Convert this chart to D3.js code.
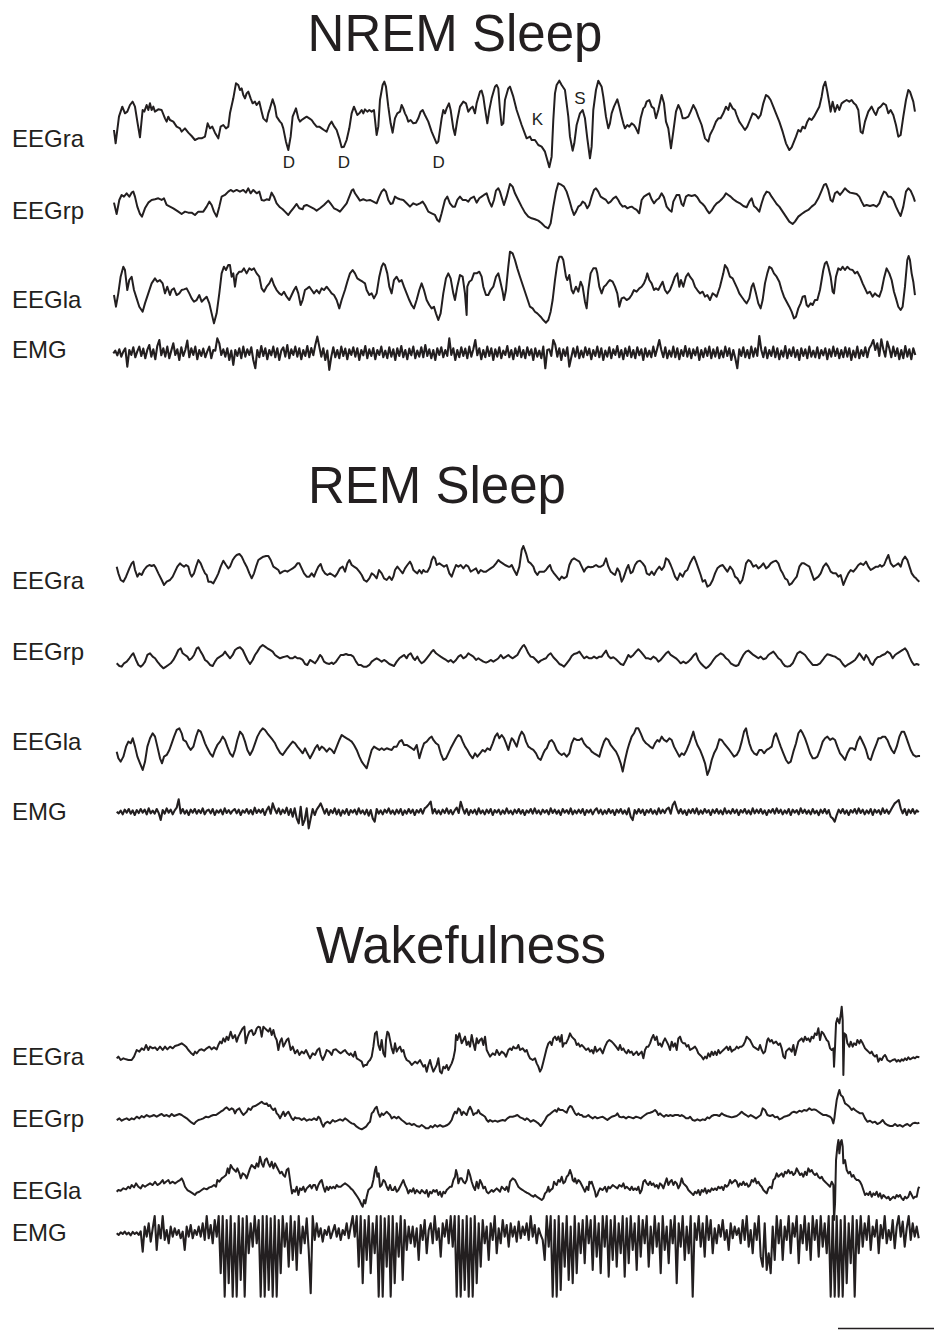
<!DOCTYPE html>
<html>
<head>
<meta charset="utf-8">
<script src="https://cdn.jsdelivr.net/npm/d3@7"></script>
<style>
  body { margin: 0; background: #fff; }
  text { font-family: "Liberation Sans", Arial, Helvetica, sans-serif; fill: #231f20; }
</style>
</head>
<body>
<div id="chart-area"></div>
<script>
// samples are ~290 Hz (2400 samples ~ 8.3 s), amplitudes in uV, up is positive

// ---------- NREM sleep ----------
var nremEEGra = [[2,-15],[7,-55],[17,25],[27,55],[35,35],[42,40],[50,60],[58,70],[65,55],[73,5],[80,-37],[88,45],[93,40],[100,60],[105,45],[110,65],[115,45],[120,55],[125,40],[135,47],[145,45],[155,20],[160,10],[165,25],[170,15],[180,10],[190,-5],[200,-10],[205,-20],[215,-10],[225,-23],[235,-33],[245,-45],[255,-40],[265,-40],[275,-35],[283,5],[290,-10],[297,-5],[305,-23],[315,-40],[322,-5],[330,0],[338,-10],[345,-5],[350,35],[360,80],[368,125],[375,120],[380,105],[385,110],[390,90],[395,80],[400,95],[405,100],[412,80],[418,65],[425,70],[430,60],[438,70],[445,40],[450,20],[460,10],[465,35],[470,50],[478,77],[485,55],[490,25],[500,10],[505,5],[510,-10],[518,-50],[525,-75],[532,-35],[538,25],[548,50],[555,20],[560,10],[565,15],[572,20],[580,25],[588,20],[595,15],[602,5],[610,-5],[618,-5],[625,-10],[632,-15],[640,-20],[648,0],[655,10],[663,-5],[670,-15],[678,-40],[685,-67],[692,-65],[700,-45],[708,-10],[715,35],[722,55],[728,40],[732,30],[738,35],[745,45],[750,35],[755,47],[762,40],[768,45],[775,40],[782,45],[790,-30],[795,-5],[800,75],[808,120],[813,130],[818,115],[825,55],[832,5],[838,-23],[845,20],[852,35],[860,40],[865,60],[870,50],[875,35],[880,25],[885,10],[892,15],[900,5],[908,7],[915,20],[922,40],[928,45],[935,30],[945,10],[955,-20],[970,-55],[975,-50],[985,20],[990,45],[995,35],[1000,50],[1007,65],[1012,45],[1020,-10],[1025,-30],[1032,15],[1040,55],[1050,70],[1058,65],[1065,40],[1072,50],[1078,55],[1085,35],[1090,65],[1100,100],[1105,103],[1110,85],[1115,50],[1122,5],[1128,45],[1135,80],[1145,115],[1150,120],[1155,110],[1160,45],[1165,0],[1170,5],[1175,75],[1185,110],
  [1190,115],[1200,85],[1210,45],[1225,0],[1240,-40],[1250,-35],[1255,-45],[1265,-45],[1275,-60],[1285,-65],[1295,-80],[1302,-105],[1308,-127],[1315,-95],[1320,15],[1325,95],[1330,120],[1338,133],[1345,120],[1355,105],[1365,25],[1370,-35],[1378,-77],[1383,-55],[1390,0],[1400,35],[1408,45],[1415,20],[1422,-40],[1430,-100],[1435,-65],[1440,45],[1448,105],[1455,133],[1465,115],[1470,85],[1478,25],[1485,-10],[1490,5],[1495,35],[1502,55],[1512,77],[1518,55],[1525,25],[1530,5],[1535,-10],[1542,0],[1548,-5],[1555,5],[1562,0],[1568,-10],[1575,-25],[1582,20],[1590,50],[1595,55],[1600,70],[1608,75],[1615,55],[1622,50],[1628,20],[1635,45],[1645,90],[1652,65],[1658,10],[1665,-10],[1673,-70],[1680,-20],[1688,40],[1695,60],[1702,45],[1708,20],[1715,20],[1725,25],[1732,40],[1740,60],[1748,45],[1755,25],[1765,0],[1775,-40],[1785,-50],[1790,-30],[1800,-10],[1808,10],[1815,20],[1822,20],[1830,35],[1838,55],[1845,45],[1850,65],[1858,50],[1865,45],[1870,30],[1878,10],[1885,0],[1895,-15],[1902,-5],[1910,15],[1918,35],[1928,30],[1935,20],[1942,30],[1950,65],[1958,90],[1965,85],[1972,75],[1980,55],[1988,35],[1998,10],[2008,-20],[2018,-55],[2028,-75],[2035,-67],[2042,-50],[2048,-35],[2055,-15],[2062,-20],[2068,-5],[2075,-10],[2082,10],[2088,20],[2095,15],[2102,25],[2110,40],[2118,55],[2125,85],[2130,115],[2136,130],[2142,100],[2148,65],[2152,40],[2158,70],[2165,40],[2172,60],[2178,45],[2185,65],[2192,70],[2200,75],[2208,70],[2215,75],[2222,65],[2228,60],[2235,45],[2242,-20],[2248,-25],[2255,10],[2265,40],[2275,55],[2282,40],[2288,30],[2295,50],[2302,55],[2310,65],[2318,60],[2325,35],[2332,45],[2340,30],[2348,0],[2355,-35],[2362,-30],[2370,25],[2378,75],[2385,105],[2390,100],[2400,70],[2405,40]];

var nremEEGrp = [[2,2],[10,-32],[18,10],[25,25],[32,20],[40,30],[48,20],[55,32],[60,35],[65,20],[72,-10],[80,-32],[86,-40],[95,-15],[105,2],[115,10],[125,12],[135,15],[145,10],[152,15],[160,-5],[170,-10],[180,-15],[195,-25],[205,-32],[215,-25],[225,-28],[235,-28],[245,-35],[255,-25],[270,-25],[280,-10],[288,5],[295,-5],[302,-25],[310,-40],[318,-10],[325,20],[335,25],[345,35],[352,40],[360,35],[370,40],[380,35],[390,40],[398,32],[405,45],[412,30],[420,40],[430,30],[438,35],[445,10],[452,8],[460,12],[468,10],[475,32],[482,20],[490,0],[500,-12],[508,-18],[515,-25],[525,-35],[532,-25],[540,-15],[550,-2],[558,-15],[568,-18],[572,-8],[580,-5],[590,-10],[600,-15],[610,-22],[620,-15],[632,-5],[645,8],[655,-5],[662,-15],[672,-20],[680,-25],[688,-15],[700,0],[708,20],[715,38],[720,42],[725,30],[732,20],[740,8],[750,12],[760,8],[770,10],[780,5],[790,0],[798,20],[805,35],[812,42],[818,35],[825,10],[832,-2],[838,0],[845,20],[852,15],[860,12],[870,10],[880,0],[890,-10],[900,0],[910,-5],[920,0],[928,5],[935,-5],[945,-25],[955,-30],[965,-35],[972,-50],[978,-55],[985,-30],[995,10],[1002,20],[1010,0],[1018,-10],[1025,-10],[1032,10],[1040,20],[1048,10],[1058,10],[1065,5],[1072,15],[1082,20],[1090,2],[1098,15],[1105,20],[1112,25],[1120,30],[1128,5],[1135,-10],[1142,10],[1148,38],[1155,45],[1160,35],[1165,18],[1172,-5],[1180,20],
  [1190,58],[1198,50],[1205,30],[1215,10],[1225,-10],[1235,-28],[1245,-40],[1255,-45],[1265,-48],[1275,-52],[1285,-60],[1295,-70],[1305,-75],[1312,-60],[1320,-10],[1328,35],[1335,60],[1345,55],[1352,50],[1360,35],[1368,10],[1375,-15],[1382,-35],[1388,-25],[1395,-10],[1402,-5],[1408,5],[1415,0],[1422,-15],[1428,-5],[1435,20],[1442,40],[1448,45],[1455,35],[1462,20],[1470,15],[1478,10],[1485,0],[1492,5],[1500,15],[1508,20],[1515,10],[1520,0],[1528,-10],[1535,-8],[1542,-15],[1548,-12],[1555,-10],[1562,-15],[1570,-20],[1578,-30],[1585,10],[1592,20],[1600,25],[1608,30],[1615,12],[1622,0],[1630,10],[1637,15],[1645,30],[1652,18],[1660,-10],[1668,-20],[1675,-25],[1680,5],[1690,25],[1698,25],[1705,-2],[1710,-8],[1718,20],[1725,25],[1735,22],[1745,25],[1752,18],[1760,5],[1768,-2],[1775,-10],[1782,-22],[1788,-30],[1795,-22],[1802,-10],[1810,0],[1818,5],[1825,12],[1832,20],[1838,30],[1845,25],[1852,20],[1860,12],[1870,5],[1880,0],[1890,-8],[1900,-12],[1908,5],[1915,15],[1922,-8],[1930,-15],[1938,-25],[1945,0],[1952,22],[1960,35],[1968,32],[1975,20],[1982,10],[1990,-2],[1998,-10],[2008,-25],[2018,-40],[2028,-55],[2038,-62],[2045,-55],[2055,-40],[2065,-32],[2075,-25],[2085,-20],[2095,-10],[2105,-2],[2115,15],[2125,38],[2132,55],[2138,58],[2145,40],[2152,10],[2158,5],[2165,30],[2172,35],[2180,25],[2188,35],[2195,45],[2202,38],[2210,32],[2220,30],[2230,28],[2238,20],[2245,5],[2252,-8],[2260,-5],[2270,-8],[2280,-5],[2290,-10],[2298,0],[2305,20],[2312,35],[2318,32],[2325,20],[2332,20],[2340,10],[2348,-10],[2355,-25],[2362,-38],[2370,-10],[2378,35],[2385,45],[2392,38],[2400,20],[2405,5]];

var nremEEGla = [[2,-25],[8,-60],[15,-20],[22,30],[30,60],[35,50],[42,-10],[48,20],[55,30],[62,-10],[70,-35],[78,-60],[88,-75],[95,-50],[105,-20],[115,10],[125,25],[132,15],[140,20],[148,10],[155,-20],[162,0],[170,-25],[175,-10],[182,-5],[190,-25],[198,-20],[205,-10],[212,-8],[220,-5],[228,-20],[235,-35],[242,-45],[250,-40],[258,-25],[265,-45],[270,-40],[280,-30],[288,-50],[295,-80],[302,-110],[310,-80],[318,-20],[325,40],[332,60],[338,50],[345,65],[350,65],[355,30],[360,40],[365,0],[370,35],[378,45],[385,45],[392,55],[400,40],[408,55],[415,50],[422,55],[430,40],[438,30],[445,-5],[452,-15],[460,0],[468,10],[475,25],[482,5],[490,-10],[498,-20],[505,-25],[512,-15],[520,-30],[528,-40],[535,-25],[542,-10],[548,0],[555,-20],[562,-55],[568,-40],[575,-10],[582,-5],[588,0],[595,-10],[602,-20],[610,-10],[618,-20],[625,-5],[632,-10],[640,0],[648,-10],[655,-20],[662,-25],[670,-40],[678,-65],[685,-40],[695,-10],[702,15],[710,40],[718,50],[725,40],[732,25],[740,20],[748,15],[755,10],[760,-10],[768,-25],[775,-20],[782,-35],[790,-20],[798,30],[805,60],[810,70],[815,65],[822,40],[828,0],[835,-20],[842,20],[850,30],[858,15],[865,20],[872,0],[880,-20],[888,-40],[895,-55],[902,-65],[910,-40],[918,-10],[925,10],[932,-10],[940,-40],[948,-55],[955,-65],[962,-60],[968,-80],[975,-100],[982,-80],[990,-20],[998,25],[1005,40],[1012,25],[1020,-20],[1025,-40],[1032,0],[1040,35],[1048,30],[1055,-20],[1060,-85],[1062,0],[1068,15],[1075,20],[1082,40],[1090,40],[1098,45],[1105,30],[1110,0],[1118,-25],[1125,-25],[1132,-10],[1140,0],[1148,30],[1155,40],[1160,20],[1168,-15],[1172,-40],[1178,-10],[1185,60],
  [1190,105],[1198,100],[1205,80],[1212,55],[1220,30],[1230,0],[1240,-30],[1250,-60],[1258,-65],[1265,-75],[1272,-80],[1282,-90],[1290,-100],[1298,-108],[1305,-100],[1312,-75],[1318,-40],[1325,20],[1332,70],[1338,90],[1345,90],[1350,80],[1358,30],[1362,20],[1368,35],[1375,-10],[1380,-20],[1388,0],[1395,-15],[1402,15],[1408,0],[1415,-45],[1420,-65],[1425,-10],[1432,40],[1440,55],[1448,55],[1452,40],[1458,0],[1465,-20],[1472,0],[1478,5],[1485,15],[1490,20],[1498,15],[1505,0],[1512,-20],[1518,-60],[1525,-35],[1532,-32],[1540,-40],[1548,-35],[1555,-25],[1562,-10],[1570,-15],[1578,-5],[1585,0],[1592,10],[1598,25],[1602,40],[1608,20],[1615,10],[1622,-10],[1628,-5],[1635,-10],[1640,0],[1648,15],[1655,-10],[1662,-20],[1670,-10],[1678,10],[1685,30],[1692,40],[1698,0],[1703,20],[1710,0],[1718,30],[1725,40],[1730,30],[1738,20],[1745,0],[1752,-10],[1760,-20],[1768,-15],[1775,-30],[1782,-25],[1790,-40],[1798,-20],[1805,-25],[1810,-30],[1820,0],[1830,40],[1835,65],[1842,55],[1850,30],[1858,25],[1865,10],[1872,-5],[1878,-20],[1885,-30],[1892,-40],[1900,-50],[1908,-35],[1915,0],[1920,10],[1928,-20],[1935,-50],[1942,-65],[1948,-40],[1955,10],[1962,40],[1968,60],[1975,55],[1982,40],[1990,30],[1998,15],[2005,-10],[2012,-30],[2020,-45],[2028,-60],[2035,-75],[2042,-95],[2048,-90],[2055,-65],[2062,-50],[2068,-30],[2075,-28],[2080,-55],[2085,-60],[2092,-50],[2098,-55],[2105,-40],[2112,-40],[2120,-10],[2125,20],[2130,50],[2135,70],[2140,75],[2145,60],[2152,30],[2158,-15],[2162,-20],[2168,30],[2175,55],[2182,50],[2188,60],[2195,50],[2202,60],[2210,52],[2218,50],[2225,40],[2232,45],[2240,30],[2248,10],[2255,-5],[2262,-20],[2270,-15],[2278,-30],[2285,-20],[2290,-25],[2298,-30],[2305,-10],[2312,25],[2320,55],[2328,40],[2335,20],[2342,-15],[2348,-35],[2355,-60],[2362,-70],[2368,-60],[2375,0],[2382,80],[2386,92],[2390,80],[2395,40],[2400,15],[2405,-25]];

// EMG is stored as evenly spaced samples (one every 6 EEG samples)
var nremEMG = [0,8,-6,12,-10,5,15,-40,10,-5,18,-12,6,20,-8,14,-15,10,25,-10,
  12,-18,22,40,-6,15,-10,20,-15,8,30,-5,12,-20,18,-8,10,38,-12,15,
  -5,20,-18,10,-8,14,-12,6,20,-15,10,8,45,30,-5,12,-10,15,-20,8,
  -35,10,-8,15,-15,20,-10,12,-5,18,-20,-45,10,-12,22,-8,15,-18,10,-6,
  20,-12,15,-20,8,18,-10,25,-15,12,-5,20,-10,15,-18,10,-8,22,-12,16,
  -6,25,50,20,-10,15,-20,8,-50,-10,18,-12,10,-15,20,-8,14,-18,12,-5,
  18,-10,15,-20,10,-6,22,-15,12,-8,16,-18,10,-5,20,-12,8,-15,18,-10,
  12,-20,15,-8,22,-12,10,-18,14,-6,20,-15,8,-10,18,-12,25,-8,12,-15,
  10,-20,15,-5,18,-12,10,-8,45,-5,15,-20,10,-12,18,-8,14,-15,20,-10,
  12,40,-6,15,-18,10,-12,20,-8,15,-20,12,-10,18,-15,8,-5,22,-12,10,
  -18,15,-8,20,-12,10,-15,18,-6,12,-20,15,-10,8,-15,20,-45,10,12,-8,
  40,25,-10,15,-20,12,-8,18,-40,-12,15,-10,20,-15,8,-12,18,-6,14,-18,
  10,-8,20,-12,15,-20,8,-10,18,-15,12,-5,22,-12,10,-18,15,-8,20,-12,
  10,-15,18,-6,12,-20,15,-10,8,-12,20,-8,15,40,10,-12,18,-15,8,-10,
  20,-12,15,-18,10,-8,22,-10,14,-15,12,-6,18,-20,10,-12,15,-8,20,-15,
  12,-10,18,-15,8,-12,20,-8,15,-20,10,-15,-45,12,-8,18,-12,10,-15,20,
  -10,15,-8,55,10,-12,18,-15,10,-8,20,-12,15,-18,8,-10,22,-15,12,-8,
  18,-12,10,-20,15,-8,12,-15,20,-10,8,-12,18,-15,10,-6,15,-18,12,-10,
  20,-8,14,-15,10,-12,18,-10,15,-20,8,-12,20,-15,10,-8,18,-12,15,25,
  40,10,30,-8,42,12,-10,35,15,-12,20,-8,15,-18,10,-15,22,-10,12,-18,
  15,-5];

// ---------- REM sleep ----------
var remEEGra = [[0,10],[5,-10],[12,-30],[20,-35],[28,-20],[38,5],[45,20],[50,25],[55,0],[62,-20],[68,-10],[75,-15],[82,0],[90,10],[98,15],[105,12],[112,15],[118,5],[125,-10],[135,-30],[142,-45],[150,-35],[160,-30],[168,-20],[175,-5],[182,10],[190,20],[195,15],[202,10],[208,15],[215,10],[220,-10],[225,-20],[232,-10],[238,10],[245,30],[252,20],[258,5],[265,-10],[270,-15],[275,-35],[282,-35],[290,-40],[298,-25],[305,-10],[312,10],[320,28],[328,15],[335,5],[340,10],[348,30],[355,40],[360,45],[368,48],[375,40],[382,25],[390,10],[398,-10],[405,-25],[412,-10],[418,10],[425,30],[432,35],[440,40],[448,42],[455,42],[462,30],[470,10],[478,5],[485,0],[490,-10],[498,-5],[505,-2],[512,-5],[520,0],[528,5],[535,10],[542,20],[548,20],[555,5],[562,-10],[570,-20],[578,-20],[585,-10],[592,-20],[598,-5],[605,10],[612,18],[618,0],[625,-10],[632,-15],[640,-10],[648,-15],[655,-20],[662,-10],[670,5],[678,10],[685,-5],[692,20],[698,30],[705,15],[712,10],[720,5],[728,-5],[735,-15],[742,-30],[750,-35],[758,-25],[765,-10],[772,-15],[780,-25],[787,0],[795,-10],[802,-25],[810,-30],[818,-20],[825,-30],[830,-20],[835,0],[842,10],[850,0],[858,-10],[865,5],[872,15],[880,25],[885,15],[890,0],[895,-5],[902,-10],[908,0],[915,-10],[920,0],[925,-5],[932,-5],[940,10],[945,30],[950,40],[955,35],[960,15],[968,20],[975,15],[982,10],[990,15],[998,-10],[1005,-20],[1012,0],[1018,15],[1025,10],[1032,15],[1040,5],[1048,15],[1055,10],[1062,-5],[1070,0],[1078,5],[1085,-10],[1092,0],[1100,-5],[1108,-5],[1115,0],[1122,5],[1130,10],[1138,20],[1145,30],[1150,25],[1158,20],[1165,15],[1175,10],
  [1180,10],[1185,15],[1192,0],[1200,-15],[1208,10],[1215,60],[1220,72],[1228,50],[1235,25],[1242,20],[1250,10],[1255,-5],[1262,-15],[1268,-5],[1275,-5],[1282,-5],[1288,0],[1295,10],[1300,15],[1305,0],[1312,-10],[1320,-20],[1328,-30],[1335,-20],[1342,-25],[1350,-20],[1358,15],[1365,30],[1372,35],[1380,30],[1388,25],[1395,10],[1402,-5],[1408,5],[1415,10],[1422,8],[1430,10],[1438,15],[1445,10],[1452,10],[1460,15],[1468,35],[1475,10],[1482,-5],[1488,-10],[1495,-15],[1502,5],[1508,-5],[1515,-35],[1520,-25],[1525,-10],[1530,5],[1535,15],[1542,-10],[1548,-5],[1555,15],[1562,25],[1570,28],[1578,20],[1585,10],[1590,-10],[1598,-15],[1605,-5],[1612,-15],[1620,0],[1628,10],[1635,0],[1642,10],[1648,35],[1655,30],[1662,15],[1668,0],[1675,-20],[1682,-30],[1690,-10],[1698,-20],[1705,-5],[1712,0],[1720,20],[1728,35],[1732,40],[1738,25],[1745,5],[1752,-15],[1758,-35],[1765,-30],[1772,-50],[1780,-45],[1788,-30],[1795,-10],[1802,5],[1810,12],[1818,15],[1825,5],[1832,-5],[1840,10],[1848,0],[1855,-20],[1862,-25],[1870,-40],[1877,-30],[1882,-10],[1888,20],[1895,30],[1902,25],[1910,10],[1918,15],[1925,5],[1932,10],[1940,20],[1948,5],[1955,10],[1962,20],[1970,25],[1978,28],[1985,20],[1992,0],[1998,-10],[2005,-25],[2012,-30],[2018,-45],[2025,-40],[2032,-30],[2040,-20],[2048,10],[2055,20],[2062,20],[2070,15],[2078,10],[2085,-10],[2092,-30],[2098,-25],[2105,-20],[2112,-10],[2120,10],[2128,20],[2135,10],[2142,-5],[2150,-10],[2158,-10],[2165,-20],[2172,-15],[2180,-45],[2188,-25],[2195,-10],[2202,0],[2210,-5],[2218,5],[2225,15],[2232,20],[2240,15],[2248,25],[2255,10],[2262,0],[2270,5],[2278,10],[2285,10],[2290,15],[2295,10],[2302,15],[2308,30],[2315,45],[2322,20],[2330,10],[2338,15],[2345,20],[2352,10],[2358,30],[2365,40],[2372,30],[2380,5],[2385,-10],[2392,-20],[2398,-25],[2402,-30],[2408,-35]];

var remEEGrp = [[0,-15],[8,-23],[15,-25],[22,-15],[30,-10],[38,0],[45,10],[50,15],[58,-5],[65,-20],[72,-25],[78,-20],[85,-10],[92,10],[100,15],[108,5],[115,0],[122,-10],[130,-20],[140,-30],[148,-25],[155,-20],[162,-15],[170,-5],[178,10],[185,25],[192,30],[198,15],[205,10],[212,5],[218,-5],[225,0],[232,10],[240,30],[245,33],[252,20],[258,10],[265,-5],[272,-10],[280,-20],[288,-23],[295,-10],[302,0],[310,5],[318,10],[325,20],[332,10],[340,0],[348,10],[355,25],[362,30],[370,33],[378,25],[385,10],[392,-5],[400,-17],[408,-5],[415,10],[422,20],[430,33],[438,40],[445,35],[452,30],[460,25],[468,20],[475,10],[482,5],[490,0],[498,3],[505,5],[512,7],[520,0],[528,0],[535,5],[542,0],[550,0],[558,-5],[565,-17],[572,-20],[580,-5],[588,-10],[595,-15],[602,-5],[610,10],[615,5],[622,-10],[630,-15],[638,-17],[645,-13],[650,-17],[658,-10],[665,0],[672,10],[680,10],[688,13],[695,10],[702,10],[710,5],[718,-10],[725,-20],[732,-20],[740,-25],[750,-25],[758,-20],[765,-10],[772,-5],[780,0],[788,-5],[795,-10],[802,-5],[810,-10],[818,-17],[825,-20],[832,-23],[840,-10],[848,0],[855,5],[862,10],[870,0],[875,10],[882,15],[890,0],[895,-5],[902,5],[908,-7],[915,-15],[922,-10],[930,0],[938,10],[945,20],[950,25],[958,15],[965,10],[972,5],[980,0],[988,-5],[995,-10],[1002,-5],[1010,-13],[1018,-5],[1025,5],[1032,10],[1040,0],[1048,5],[1055,15],[1062,10],[1070,5],[1078,-5],[1085,0],[1092,-5],[1100,-10],[1108,-13],[1115,-10],[1122,-5],[1130,-10],[1138,-5],[1145,0],[1152,10],[1160,0],[1168,5],[1175,10],
  [1180,5],[1188,0],[1195,5],[1202,10],[1210,25],[1218,37],[1222,40],[1228,30],[1235,15],[1242,5],[1250,3],[1258,-5],[1265,-13],[1272,-7],[1280,-3],[1288,0],[1295,10],[1302,15],[1310,3],[1318,-5],[1328,-17],[1335,-20],[1342,-25],[1350,-15],[1358,-5],[1365,7],[1372,13],[1380,15],[1388,20],[1395,10],[1402,0],[1410,5],[1418,0],[1425,0],[1432,5],[1440,0],[1448,5],[1455,5],[1462,15],[1468,23],[1475,7],[1482,0],[1490,3],[1498,-3],[1505,-10],[1512,-17],[1520,-20],[1528,-5],[1535,10],[1542,3],[1550,10],[1558,20],[1565,27],[1572,20],[1580,10],[1588,0],[1595,0],[1602,-3],[1610,5],[1618,0],[1625,-10],[1632,-5],[1640,5],[1648,15],[1655,20],[1662,10],[1670,5],[1678,0],[1685,-7],[1692,-15],[1700,-10],[1708,-15],[1715,-10],[1722,-3],[1728,5],[1732,10],[1738,15],[1745,-5],[1752,-15],[1760,-23],[1768,-30],[1775,-25],[1782,-17],[1790,-5],[1798,5],[1805,10],[1812,15],[1820,10],[1828,0],[1835,-5],[1842,-15],[1850,-20],[1858,-23],[1865,-20],[1872,-5],[1880,10],[1888,20],[1895,23],[1902,17],[1910,10],[1918,5],[1925,0],[1932,5],[1940,-3],[1948,0],[1955,10],[1962,15],[1970,20],[1978,10],[1985,0],[1992,-5],[1998,-15],[2005,-23],[2012,-25],[2020,-23],[2028,-15],[2035,0],[2042,15],[2050,20],[2058,15],[2065,10],[2072,0],[2080,-10],[2088,-20],[2095,-20],[2102,-20],[2110,-15],[2118,-5],[2125,5],[2132,12],[2140,10],[2148,7],[2155,5],[2162,0],[2170,-5],[2178,-17],[2185,-25],[2192,-20],[2200,-15],[2208,-10],[2215,-5],[2222,5],[2228,15],[2235,5],[2242,-5],[2248,10],[2255,0],[2262,-15],[2268,-20],[2275,-5],[2282,3],[2290,5],[2298,10],[2305,13],[2312,20],[2320,15],[2328,0],[2335,10],[2342,15],[2350,20],[2358,25],[2365,30],[2372,20],[2378,5],[2385,-10],[2392,-20],[2400,-17],[2408,-20]];

var remEEGla = [[0,-10],[5,-30],[12,-40],[20,-25],[28,5],[35,20],[42,15],[48,30],[55,5],[62,-25],[70,-45],[78,-65],[85,-40],[92,5],[100,30],[108,45],[115,35],[122,5],[130,-30],[136,-45],[142,-25],[150,-20],[158,-5],[165,15],[172,35],[180,55],[188,60],[195,45],[200,25],[208,20],[215,5],[222,-5],[230,5],[238,35],[245,55],[252,50],[258,35],[265,15],[272,0],[280,-15],[288,-25],[295,-5],[302,10],[310,20],[318,35],[325,25],[332,5],[340,-15],[348,-25],[355,-5],[362,25],[370,50],[378,40],[385,20],[392,-5],[400,-20],[408,-5],[415,15],[422,35],[430,50],[438,60],[445,55],[452,45],[460,35],[468,25],[475,15],[482,0],[490,-13],[498,-20],[505,-10],[512,0],[520,10],[528,20],[535,15],[542,5],[550,-5],[558,-15],[565,0],[572,-15],[580,-30],[588,-15],[595,0],[602,10],[608,-5],[615,5],[622,0],[630,-10],[638,0],[645,-5],[652,-15],[660,5],[668,25],[675,40],[682,35],[690,30],[698,25],[705,20],[712,10],[720,-5],[728,-25],[735,-40],[742,-50],[750,-60],[758,-30],[765,-5],[772,5],[780,0],[788,-5],[795,0],[802,-5],[810,0],[818,-3],[825,-5],[832,5],[840,5],[848,20],[855,25],[862,10],[870,10],[878,5],[885,0],[892,-5],[900,10],[908,-30],[915,-5],[922,15],[930,20],[938,30],[945,35],[950,25],[958,15],[965,10],[972,-15],[980,-35],[988,-30],[995,-15],[1002,0],[1010,15],[1018,30],[1025,40],[1032,35],[1038,20],[1045,5],[1052,-5],[1060,-20],[1068,-30],[1075,-15],[1082,-25],[1090,-15],[1098,-5],[1105,-10],[1112,0],[1120,-5],[1128,15],[1135,35],[1142,45],[1148,30],[1155,40],[1162,30],[1168,15],[1175,-5],
  [1180,15],[1185,30],[1190,25],[1195,15],[1200,5],[1208,35],[1215,50],[1222,40],[1228,20],[1235,5],[1242,0],[1250,-5],[1258,-15],[1265,-30],[1272,-35],[1280,-15],[1285,-5],[1290,0],[1298,20],[1305,25],[1312,15],[1320,-5],[1328,-15],[1335,-20],[1342,-15],[1350,-25],[1358,-15],[1365,15],[1372,30],[1380,25],[1388,25],[1395,30],[1402,15],[1410,5],[1418,0],[1425,-10],[1432,-15],[1440,-20],[1448,-25],[1455,0],[1462,20],[1468,30],[1475,25],[1482,10],[1490,0],[1498,-10],[1505,-25],[1512,-45],[1518,-70],[1525,-35],[1532,-5],[1538,15],[1545,35],[1552,45],[1558,60],[1565,60],[1572,45],[1580,25],[1588,15],[1595,10],[1600,5],[1608,0],[1615,15],[1622,25],[1628,20],[1635,35],[1642,25],[1650,20],[1658,30],[1665,25],[1672,5],[1680,-10],[1688,-25],[1695,-15],[1702,-20],[1710,-5],[1718,15],[1725,35],[1730,50],[1735,30],[1742,10],[1750,-5],[1758,-25],[1765,-45],[1772,-80],[1778,-65],[1785,-35],[1792,-15],[1800,0],[1808,27],[1815,25],[1822,15],[1830,5],[1838,-5],[1845,-15],[1852,-25],[1860,-20],[1868,-5],[1875,20],[1882,50],[1888,60],[1892,40],[1898,15],[1905,-5],[1912,-15],[1920,-20],[1928,-5],[1935,-5],[1942,-15],[1950,-5],[1958,0],[1965,5],[1972,35],[1978,45],[1985,25],[1992,5],[2000,-15],[2008,-35],[2015,-45],[2022,-40],[2030,-10],[2038,15],[2045,45],[2052,55],[2058,45],[2065,30],[2072,10],[2080,-15],[2088,-30],[2095,-30],[2102,-25],[2110,-5],[2118,20],[2125,30],[2132,35],[2140,25],[2148,30],[2155,25],[2162,5],[2170,-15],[2178,-25],[2185,-35],[2192,-15],[2200,0],[2208,0],[2215,-5],[2222,20],[2230,35],[2235,25],[2242,10],[2248,-5],[2255,-30],[2262,-35],[2270,-10],[2278,10],[2285,30],[2292,30],[2298,35],[2305,35],[2312,25],[2318,10],[2325,-5],[2332,-15],[2340,5],[2348,35],[2355,50],[2362,50],[2368,35],[2375,15],[2382,-5],[2390,-20],[2398,-25],[2405,-23],[2410,-23]];

var remEMG = [0,-5,3,-8,6,-3,8,-6,4,-10,5,-4,8,-3,6,-8,10,-5,3,-6,
  8,-4,-25,5,-6,10,-3,6,-8,4,12,37,-5,8,-6,4,-10,6,-3,8,
  -6,5,-4,10,-8,3,6,-5,8,-10,4,-3,6,-8,10,-4,5,-6,3,8,
  -5,6,-10,4,-3,8,-6,5,-8,12,-4,6,-3,8,-10,5,15,-6,25,8,
  -5,10,-8,6,-4,12,-10,8,-15,10,-20,-35,15,-40,-25,10,-50,-20,8,-10,
  6,15,25,10,-6,8,-10,5,-4,10,-8,6,-12,4,-6,8,-10,5,-3,6,
  -8,10,-5,4,-8,6,-12,5,-20,-30,8,-6,4,-8,6,-3,10,-6,4,-8,
  6,-5,8,-10,4,-6,8,-4,6,-10,5,-3,8,-6,10,15,22,30,-5,8,
  -6,4,-8,6,-4,10,-6,5,-8,4,12,-4,30,10,-6,8,-10,5,-4,6,
  -8,10,-5,4,-8,6,-4,8,-10,5,-3,6,-8,4,-6,10,-5,3,-8,6,
  -4,8,-6,5,-10,4,-3,8,-6,10,-5,4,-8,6,-3,5,-8,10,-4,6,
  -6,4,-10,8,-3,5,-6,10,-8,4,-5,6,-4,8,-10,5,-3,6,-8,4,
  10,-5,6,-8,4,-6,8,-4,5,-10,6,-3,8,-6,4,-8,10,-15,-25,5,
  -6,8,-4,6,-10,5,-3,8,-6,4,-8,10,-5,6,-4,8,12,-6,20,30,
  10,-5,8,-6,4,-10,6,-4,8,-5,10,-8,4,-6,8,-3,5,-10,6,-4,
  8,-6,4,-8,10,-5,3,-6,8,-4,6,-10,5,-3,8,-6,4,-8,10,-5,
  6,-4,8,-6,4,-10,5,-3,8,-6,10,-4,6,-8,4,-5,8,-10,6,-3,
  5,-8,10,-4,6,-6,4,-8,8,-5,3,-10,6,-4,8,-6,5,-15,-20,-30,
  -10,6,-4,8,-6,4,-10,5,-3,8,-6,10,-4,6,-8,4,-5,8,-10,6,
  -3,5,-8,10,-4,6,-6,4,15,25,30,35,10,-5,8,-10,6,-4,8,-6,
  4,-2];

// ---------- Wakefulness ----------
var wakeEEGra = [[0,-25],[5,-20],[12,-30],[20,-25],[28,-28],[35,-30],[45,-30],[52,-20],[60,0],[68,-5],[75,5],[82,0],[88,15],[95,0],[100,10],[108,5],[115,8],[122,0],[130,10],[138,0],[145,10],[152,2],[160,10],[168,5],[175,12],[185,15],[195,20],[202,15],[208,10],[215,0],[222,-8],[230,-15],[235,-5],[240,-10],[248,0],[255,2],[262,-2],[270,5],[278,10],[285,2],[292,8],[300,2],[305,15],[310,25],[315,20],[320,35],[325,25],[330,40],[335,30],[342,55],[348,35],[355,45],[360,25],[365,40],[370,50],[378,65],[383,70],[387,20],[392,40],[398,55],[405,60],[410,45],[415,50],[420,65],[425,70],[430,68],[435,40],[440,70],[445,65],[450,60],[455,55],[460,65],[465,45],[470,60],[475,40],[480,30],[485,0],[490,25],[495,35],[500,10],[505,20],[510,30],[515,35],[522,0],[528,10],[535,-10],[542,0],[548,-15],[555,-5],[562,-10],[568,0],[575,-15],[580,-25],[588,-10],[595,-15],[602,0],[608,5],[612,-15],[618,-30],[625,-15],[630,0],[638,-5],[645,-15],[650,0],[658,2],[665,-5],[672,-10],[678,-5],[685,0],[692,-10],[698,-15],[702,-10],[710,-20],[715,-5],[720,-25],[728,-30],[735,-35],[740,-50],[745,-45],[750,-45],[755,-35],[760,-30],[765,-20],[770,10],[775,50],[780,55],[785,15],[790,0],[795,30],[800,-10],[805,-20],[808,30],[812,55],[816,50],[820,30],[825,5],[830,-10],[835,20],[840,-5],[845,5],[850,10],[855,-5],[860,0],[865,-20],[870,-30],[878,-35],[885,-45],[890,-40],[895,-35],[902,-40],[910,-30],[915,-40],[920,-50],[925,-45],[930,-65],[935,-45],[940,-30],[945,-50],[950,-65],[955,-55],[960,-45],[965,-25],[970,-65],[975,-70],[980,-50],[985,-55],[990,-45],[995,-60],[1000,-50],[1005,-40],[1010,-25],[1015,0],[1018,45],[1022,30],[1028,50],[1035,20],[1040,30],[1045,40],[1050,15],[1055,25],[1060,10],[1065,45],[1070,20],[1075,0],[1080,35],[1085,20],[1090,30],[1095,35],[1100,15],[1105,40],[1110,0],[1115,-10],[1120,-20],[1128,-10],[1135,-15],[1140,0],[1148,-15],[1155,-5],[1162,-10],[1168,-20],[1175,0],
  [1180,5],[1185,0],[1190,10],[1195,5],[1200,5],[1205,15],[1210,0],[1218,5],[1225,-5],[1230,0],[1235,-15],[1240,-25],[1248,-30],[1255,-25],[1260,-40],[1265,-50],[1270,-65],[1275,-55],[1280,-35],[1285,-15],[1290,5],[1295,20],[1300,25],[1305,15],[1310,35],[1315,40],[1320,30],[1325,40],[1330,25],[1335,45],[1338,10],[1342,20],[1348,20],[1355,35],[1360,50],[1365,40],[1370,35],[1375,30],[1380,15],[1385,20],[1390,10],[1395,15],[1400,10],[1408,0],[1415,5],[1420,-5],[1425,0],[1430,-10],[1435,10],[1440,-5],[1445,0],[1450,5],[1458,-10],[1465,10],[1472,25],[1478,30],[1485,25],[1490,20],[1498,10],[1505,0],[1510,15],[1515,0],[1520,5],[1525,-5],[1530,-10],[1535,0],[1540,-8],[1545,-5],[1550,-15],[1555,-10],[1560,-5],[1565,-15],[1570,-10],[1575,-5],[1580,-25],[1585,0],[1590,10],[1595,10],[1600,20],[1605,35],[1610,45],[1615,30],[1620,40],[1625,15],[1630,20],[1635,10],[1640,25],[1645,35],[1650,25],[1655,15],[1660,0],[1665,25],[1670,10],[1675,20],[1680,0],[1685,35],[1690,40],[1695,25],[1700,20],[1705,20],[1710,10],[1715,15],[1720,0],[1728,5],[1735,10],[1740,2],[1745,-10],[1750,-15],[1755,-20],[1760,-28],[1765,-20],[1770,-25],[1775,-10],[1780,-20],[1785,-5],[1790,-15],[1795,-5],[1800,-15],[1805,0],[1810,-10],[1815,-5],[1820,0],[1825,5],[1830,10],[1835,0],[1840,10],[1845,-5],[1850,0],[1855,2],[1860,10],[1865,5],[1870,10],[1875,10],[1880,15],[1885,25],[1890,40],[1895,35],[1900,30],[1905,20],[1910,10],[1918,5],[1925,0],[1930,15],[1935,0],[1940,-10],[1945,-5],[1948,10],[1952,30],[1955,35],[1960,25],[1965,30],[1970,20],[1978,25],[1985,15],[1990,20],[1995,5],[2000,-20],[2005,-25],[2008,-5],[2012,0],[2018,5],[2025,-5],[2030,15],[2035,-15],[2040,5],[2045,25],[2050,30],[2055,35],[2060,25],[2065,40],[2070,30],[2075,35],[2080,25],[2085,40],[2090,35],[2095,50],[2100,45],[2105,65],[2110,30],[2115,55],[2120,50],[2125,40],[2130,30],[2135,25],[2140,5],[2145,0],[2150,5],[2152,-50],[2155,10],[2158,80],[2162,95],[2168,80],[2172,105],[2175,130],[2178,90],[2180,-75],[2183,50],[2188,45],[2192,20],[2198,10],[2202,25],[2208,10],[2212,20],[2218,15],[2222,30],[2228,20],[2232,30],[2238,20],[2245,5],[2250,0],[2255,-5],[2260,-10],[2265,-5],[2270,-15],[2275,-20],[2280,-15],[2285,-35],[2290,-25],[2295,-30],[2300,-20],[2305,-15],[2308,-20],[2312,-30],[2320,-35],[2328,-30],[2335,-28],[2340,-35],[2345,-30],[2350,-35],[2355,-28],[2360,-32],[2365,-25],[2370,-30],[2375,-22],[2380,-28],[2385,-25],[2390,-22],[2395,-25],[2400,-20],[2408,-22]];

var wakeEEGrp = [[0,-10],[8,-5],[15,-12],[22,-8],[30,-5],[38,-10],[45,-5],[52,-8],[60,0],[68,-5],[75,2],[82,-2],[90,5],[98,0],[105,2],[112,5],[120,0],[128,5],[135,8],[142,2],[150,5],[158,0],[165,8],[172,2],[180,5],[188,8],[195,5],[202,0],[210,-5],[218,-12],[225,-18],[232,-22],[238,-15],[245,-10],[252,-8],[260,-5],[268,0],[275,-2],[282,2],[290,5],[298,5],[305,10],[312,15],[320,20],[325,25],[330,28],[338,20],[345,25],[350,22],[355,10],[360,20],[368,25],[375,12],[380,5],[385,10],[390,15],[395,25],[402,20],[408,30],[415,32],[420,35],[428,40],[435,45],[440,40],[445,38],[450,40],[455,32],[460,35],[465,25],[470,20],[475,25],[480,10],[485,5],[490,-5],[495,5],[500,15],[505,2],[510,10],[515,15],[520,5],[525,-5],[530,-10],[535,-2],[540,-5],[548,-5],[555,-10],[562,-5],[570,-12],[578,-8],[585,-10],[592,-5],[600,-10],[605,0],[610,-5],[615,-20],[620,-30],[625,-20],[632,-15],[640,-20],[648,-10],[655,-15],[662,-12],[670,-8],[678,-12],[685,-5],[692,-10],[698,-15],[705,-20],[712,-22],[720,-30],[728,-35],[735,-38],[740,-35],[748,-30],[755,-20],[760,-15],[765,10],[770,15],[775,25],[780,30],[785,10],[790,0],[795,10],[800,5],[805,10],[810,15],[815,10],[820,5],[825,-5],[832,0],[840,-5],[845,0],[850,-5],[855,-10],[862,-15],[870,-22],[878,-20],[885,-25],[892,-22],[900,-28],[908,-30],[915,-25],[922,-30],[928,-35],[935,-35],[942,-28],[948,-32],[955,-25],[962,-30],[970,-25],[978,-30],[985,-28],[992,-25],[998,-20],[1005,-10],[1010,5],[1015,15],[1020,10],[1025,25],[1030,20],[1035,5],[1040,15],[1045,10],[1050,5],[1055,20],[1060,30],[1065,20],[1070,5],[1075,10],[1080,10],[1085,20],[1090,10],[1098,5],[1105,0],[1110,-10],[1115,-15],[1120,-10],[1128,-15],[1135,-12],[1142,-15],[1150,-12],[1158,-10],[1165,-12],[1172,-5],[1180,0],
  [1188,0],[1195,2],[1202,5],[1210,-2],[1218,-5],[1225,-10],[1230,-5],[1235,-8],[1242,-15],[1250,-10],[1258,-15],[1265,-20],[1272,-28],[1278,-20],[1285,-10],[1290,0],[1295,5],[1300,8],[1308,15],[1315,20],[1320,15],[1325,25],[1330,20],[1338,20],[1345,15],[1350,12],[1355,25],[1360,32],[1365,30],[1370,20],[1375,10],[1380,5],[1385,10],[1390,5],[1395,5],[1400,0],[1408,0],[1415,5],[1420,0],[1428,-5],[1435,0],[1442,-5],[1450,-2],[1458,0],[1465,-5],[1472,-10],[1478,-5],[1485,0],[1492,2],[1498,5],[1502,10],[1508,0],[1515,-2],[1520,0],[1528,-5],[1535,0],[1542,-2],[1550,-5],[1558,0],[1565,-2],[1572,-5],[1578,0],[1585,5],[1592,10],[1600,12],[1608,15],[1615,20],[1620,15],[1625,5],[1630,10],[1635,5],[1642,0],[1648,5],[1655,2],[1660,5],[1668,2],[1675,5],[1680,5],[1685,5],[1690,2],[1695,5],[1700,2],[1708,-5],[1715,-5],[1720,0],[1728,-10],[1735,-12],[1742,-8],[1750,-12],[1758,-8],[1765,-10],[1772,-2],[1778,-5],[1785,2],[1792,5],[1800,5],[1808,2],[1815,10],[1822,5],[1830,2],[1838,0],[1845,-2],[1852,0],[1860,2],[1868,8],[1875,15],[1880,10],[1888,5],[1895,0],[1902,5],[1910,0],[1918,-5],[1925,0],[1932,5],[1938,25],[1945,20],[1952,5],[1960,2],[1968,5],[1975,-2],[1982,0],[1988,-8],[1995,-5],[2002,0],[2010,2],[2018,5],[2025,12],[2032,15],[2040,12],[2048,18],[2055,15],[2062,20],[2070,18],[2078,25],[2085,20],[2092,22],[2098,20],[2105,15],[2112,10],[2120,5],[2128,5],[2135,2],[2140,0],[2145,-5],[2150,-20],[2153,-5],[2156,20],[2160,50],[2165,70],[2168,80],[2172,65],[2178,60],[2185,40],[2192,35],[2198,30],[2205,20],[2210,25],[2215,20],[2222,15],[2230,10],[2238,10],[2245,-5],[2252,-15],[2260,-12],[2268,-18],[2275,-15],[2282,-22],[2290,-18],[2298,-10],[2305,-20],[2312,-25],[2320,-28],[2328,-28],[2335,-22],[2342,-28],[2350,-25],[2358,-30],[2365,-25],[2372,-22],[2380,-28],[2388,-20],[2395,-18],[2402,-20],[2408,-18]];

var wakeEEGla = [[0,-15],[5,-10],[12,-12],[20,-5],[28,-8],[35,0],[40,-5],[45,5],[52,-2],[58,10],[65,0],[72,-5],[78,5],[85,0],[92,5],[100,10],[108,5],[115,15],[122,5],[130,10],[138,20],[142,10],[148,15],[155,20],[160,10],[168,15],[175,10],[182,15],[190,20],[195,25],[200,15],[205,0],[212,-10],[220,-15],[228,-20],[235,-25],[240,-18],[248,-15],[255,-10],[262,-5],[270,-8],[278,-2],[285,0],[292,5],[298,0],[302,20],[308,15],[315,25],[322,30],[328,35],[333,55],[337,40],[342,65],[348,55],[353,50],[358,45],[362,55],[368,40],[372,25],[378,40],[385,35],[390,25],[395,40],[400,55],[405,65],[410,60],[415,55],[420,70],[425,60],[430,90],[435,70],[440,60],[445,80],[450,85],[455,70],[460,60],[465,75],[470,55],[475,70],[480,60],[485,50],[490,40],[495,45],[500,35],[505,30],[510,50],[515,55],[520,20],[522,5],[526,-20],[530,-10],[535,-15],[540,0],[545,-25],[550,-5],[555,-10],[560,0],[565,-15],[570,-5],[575,0],[580,5],[585,-5],[590,5],[595,5],[600,-10],[605,5],[610,15],[615,20],[620,0],[625,-15],[630,0],[635,-10],[640,0],[645,-5],[650,0],[655,-5],[660,5],[665,0],[672,0],[678,5],[685,10],[692,5],[698,0],[702,-5],[708,-10],[715,-20],[722,-30],[728,-40],[735,-55],[738,-60],[742,-40],[746,-50],[750,-30],[755,-10],[760,-5],[765,0],[770,20],[775,50],[778,60],[782,30],[786,40],[790,0],[795,5],[800,20],[805,15],[810,0],[815,-10],[820,5],[825,-10],[830,-10],[835,0],[840,-15],[845,-10],[850,0],[855,10],[860,20],[865,5],[870,-5],[875,-20],[880,-10],[885,-15],[890,-5],[895,-20],[900,-10],[905,-15],[910,-20],[915,-10],[920,-15],[925,-20],[930,-10],[935,-30],[940,-15],[945,-20],[950,-10],[955,-15],[960,-10],[965,-25],[970,-15],[975,-30],[980,-15],[985,-20],[990,-10],[995,-5],[1000,0],[1005,0],[1010,20],[1015,30],[1018,50],[1022,35],[1025,10],[1030,25],[1035,25],[1040,15],[1045,10],[1050,20],[1055,50],[1060,35],[1065,15],[1070,0],[1075,-10],[1080,15],[1085,-5],[1090,20],[1095,10],[1100,-5],[1105,0],[1110,-15],[1115,-20],[1120,-15],[1125,-10],[1130,-15],[1135,-10],[1140,-5],[1145,-10],[1150,-15],[1155,0],[1160,-5],[1165,-10],[1170,0],[1175,-15],
  [1180,15],[1188,25],[1195,20],[1200,10],[1205,0],[1210,-5],[1218,-10],[1225,-15],[1230,-18],[1235,-20],[1242,-25],[1250,-30],[1255,-25],[1260,-30],[1268,-35],[1275,-40],[1280,-35],[1285,-20],[1290,-15],[1295,0],[1298,-15],[1302,-10],[1308,-5],[1312,15],[1315,10],[1320,5],[1325,20],[1330,15],[1335,30],[1340,10],[1345,15],[1350,30],[1355,35],[1360,50],[1365,35],[1368,20],[1372,15],[1375,25],[1380,10],[1385,20],[1390,15],[1395,5],[1400,-5],[1405,-15],[1410,0],[1415,-10],[1418,15],[1422,10],[1425,15],[1430,0],[1435,-15],[1438,-30],[1442,-25],[1445,-15],[1450,-5],[1458,-10],[1465,0],[1470,-15],[1475,0],[1480,-5],[1488,5],[1495,0],[1502,-5],[1508,5],[1515,0],[1520,10],[1525,-5],[1530,0],[1535,-5],[1540,-10],[1545,0],[1550,-10],[1555,-5],[1560,-10],[1565,0],[1570,-20],[1575,-10],[1580,15],[1585,20],[1590,10],[1595,5],[1600,15],[1605,5],[1610,10],[1615,0],[1620,5],[1625,-5],[1630,10],[1635,5],[1640,-5],[1645,10],[1650,25],[1655,5],[1660,15],[1665,20],[1670,5],[1675,15],[1680,10],[1685,-5],[1690,5],[1695,25],[1700,10],[1705,5],[1710,0],[1715,-10],[1720,-15],[1725,-20],[1730,-25],[1735,-15],[1740,-20],[1745,-10],[1750,-25],[1755,-10],[1760,-15],[1765,-5],[1770,-20],[1775,-10],[1780,-15],[1785,-5],[1790,-10],[1795,-5],[1800,-10],[1805,0],[1810,-5],[1815,0],[1820,-10],[1825,5],[1830,0],[1835,5],[1840,20],[1845,10],[1850,15],[1855,20],[1860,15],[1865,0],[1870,10],[1875,5],[1880,15],[1885,5],[1890,10],[1895,0],[1900,5],[1905,20],[1910,15],[1915,25],[1920,10],[1925,15],[1930,5],[1935,0],[1940,-10],[1945,-15],[1950,-20],[1955,-5],[1960,0],[1965,-5],[1970,20],[1975,25],[1980,40],[1985,30],[1990,35],[1995,40],[2000,30],[2005,45],[2010,40],[2015,50],[2020,40],[2025,45],[2030,35],[2035,40],[2040,55],[2045,45],[2050,35],[2055,40],[2060,30],[2065,45],[2070,35],[2075,55],[2080,45],[2085,50],[2090,40],[2095,35],[2100,40],[2105,30],[2110,25],[2115,30],[2120,20],[2125,15],[2130,10],[2135,5],[2140,0],[2145,15],[2150,5],[2152,-100],[2155,-50],[2158,80],[2162,120],[2165,140],[2168,100],[2172,135],[2175,140],[2178,120],[2180,70],[2185,80],[2190,50],[2195,40],[2200,45],[2205,30],[2210,35],[2215,25],[2220,20],[2225,20],[2230,15],[2235,5],[2240,-10],[2245,-25],[2250,-20],[2255,-25],[2260,-15],[2265,-30],[2270,-20],[2275,-25],[2280,-15],[2285,-30],[2290,-20],[2295,-35],[2300,-25],[2305,-30],[2310,-35],[2315,-30],[2320,-40],[2325,-35],[2330,-30],[2335,-35],[2340,-25],[2345,-30],[2350,-25],[2355,-35],[2360,-40],[2365,-30],[2370,-35],[2375,-30],[2380,-15],[2385,-25],[2390,-35],[2395,-30],[2400,-30],[2405,-5],[2408,0]];

var wakeEMG = [0,-5,3,-2,5,-3,2,-6,4,-2,3,-5,6,
  -55,20,-10,30,-25,15,52,-50,25,-15,52,-20,10,-30,20,-10,15,-5,10,-15,5,-50,20,-10,25,-15,10,-5,20,-10,30,-20,52,-15,25,-30,40,-10,
  52,-120,52,-190,40,-150,52,-190,30,-190,52,-140,45,-190,52,-60,30,-40,52,-30,40,-190,52,-190,52,-170,45,-190,52,-190,40,-120,52,-40,30,-100,52,-80,35,-110,52,-60,20,-30,45,-50,-180,52,
  -20,30,-10,15,-25,10,-5,20,-15,5,25,-10,15,-20,10,-5,30,-15,20,52,-10,52,
  -100,52,-150,40,-80,52,-120,30,-60,52,-190,52,-190,45,-100,52,-190,52,-150,30,-70,52,-140,40,-50,20,-30,
  20,-40,15,-80,25,-20,40,-60,10,30,-30,52,-20,15,-70,30,-10,40,-30,52,-40,
  52,-190,52,-190,40,-170,52,-190,45,-190,52,-150,30,-100,
  40,-30,20,-80,30,-20,52,-60,15,-30,40,-10,25,-40,30,-10,20,-25,
  35,-15,20,-5,30,-20,52,-10,25,-30,15,-5,-20,
  -80,52,-40,52,-190,40,-190,52,-170,30,-100,52,-140,20,-150,52,-120,30,-60,40,
  -90,52,-30,40,-110,52,-70,30,-120,52,-40,52,-130,40,-80,52,-100,30,-60,52,-130,45,-90,52,-50,30,-110,52,-70,40,-30,52,-100,20,-60,52,-40,30,-120,52,-50,20,
  -90,40,-30,52,-150,30,-40,52,-80,20,-60,52,-190,30,-20,
  52,-40,30,-70,52,-20,40,-60,15,-30,25,-10,40,-20,10,-50,30,-15,20,-5,15,-30,40,-20,52,-40,10,-60,30,-20,52,-70,
  -100,30,-110,-60,-120,20,-80,52,
  -30,40,-80,20,-20,52,-60,30,-10,52,-90,25,-30,52,-50,30,-80,52,-20,40,-70,52,-40,30,-60,52,
  -190,52,-190,52,-190,40,-190,52,-150,
  30,-90,52,-190,40,-60,52,
  -40,30,-20,52,-50,20,-10,40,-60,25,-15,52,-30,10,-20,40,-45,20,52,-10,35,-40,15,52,-20,30,-10,20,-15];

// NREM event markers (delta waves, K-complex, spindle)
var nremMarks = [["D",527,-130],["D",692,-130],["D",976,-130],["K",1272,0],["S",1400,63]];

var traceNames = ["EEGra", "EEGrp", "EEGla", "EMG"];

var width = 934, height = 1330;
var ink = "#231f20";

var svg = d3.select("#chart-area").append("svg")
    .attr("width", width)
    .attr("height", height);

// 3 uV per pixel, same gain on every trace
var y = d3.scaleLinear().domain([-150, 150]).range([50, -50]);

function emgPoints(arr) {
    return arr.map(function(v, i) { return [i * 6, Math.max(-190, Math.min(52, v))]; });
}

var panels = [
    { title: "NREM Sleep", titleX: 455, titleY: 51, x0: 113.3,
      series: [nremEEGra, nremEEGrp, nremEEGla, emgPoints(nremEMG)],
      bases: [125, 203.3, 286.7, 353.3], labelY: [146.5, 218.5, 308, 358], marks: nremMarks },
    { title: "REM Sleep", titleX: 437, titleY: 503, x0: 116.7,
      series: [remEEGra, remEEGrp, remEEGla, emgPoints(remEMG)],
      bases: [570, 658.3, 748.3, 811.7], labelY: [588.5, 659.5, 749.5, 819.5], marks: [] },
    { title: "Wakefulness", titleX: 461, titleY: 963, x0: 116.7,
      series: [wakeEEGra, wakeEEGrp, wakeEEGla, emgPoints(wakeEMG)],
      bases: [1050, 1116.7, 1186.7, 1233.3], labelY: [1065, 1127, 1198.5, 1240.5], marks: [] }
];

panels.forEach(function(p) {
    var x = d3.scaleLinear().domain([0, 2400]).range([p.x0, p.x0 + 800]);
    var line = d3.line()
        .x(function(d) { return x(d[0]); })
        .y(function(d) { return y(d[1]); });

    svg.append("text")
        .attr("x", p.titleX)
        .attr("y", p.titleY)
        .attr("text-anchor", "middle")
        .attr("font-size", 51)
        .text(p.title);

    p.series.forEach(function(s, i) {
        var g = svg.append("g")
            .attr("transform", "translate(0," + p.bases[i] + ")");
        g.append("path")
            .attr("fill", "none")
            .attr("stroke", ink)
            .attr("stroke-width", i == 3 ? 2.1 : 2)
            .attr("stroke-linejoin", "round")
            .attr("d", line(s));

        svg.append("text")
            .attr("x", 12)
            .attr("y", p.labelY[i])
            .attr("font-size", 24)
            .text(traceNames[i]);
    });

    p.marks.forEach(function(m) {
        svg.append("text")
            .attr("x", x(m[1]))
            .attr("y", p.bases[0] + y(m[2]))
            .attr("text-anchor", "middle")
            .attr("font-size", 17)
            .text(m[0]);
    });
});

// 1 s scale bar
var bar = d3.scaleLinear().domain([0, 1]).range([838, 934]);
svg.append("line")
    .attr("x1", bar(0)).attr("x2", bar(1))
    .attr("y1", 1328.5).attr("y2", 1328.5)
    .attr("stroke", ink)
    .attr("stroke-width", 1.5);
</script>
</body>
</html>
